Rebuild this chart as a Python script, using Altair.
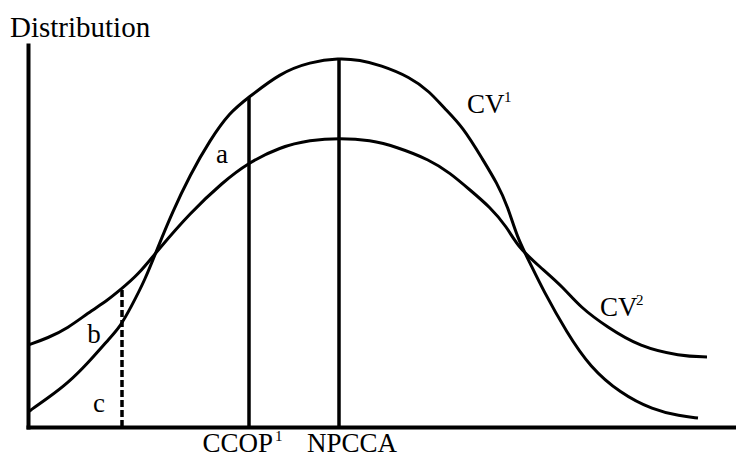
import altair as alt
import numpy as np
import pandas as pd

# ---- values (x: horizontal units, y: distribution height) ----
cv1_x = [0, 20, 40, 60, 80, 92, 103, 117, 130, 144, 162, 182, 202, 220, 252, 282, 311,
         332, 352, 382, 402, 415, 435, 455, 469, 480, 489, 502, 515, 539, 562, 592, 625,
         652, 670]
cv1_y = [15, 29, 44, 64, 87, 100, 120, 147, 180, 214, 252, 287, 315, 329, 354, 365, 369,
         367, 362, 350, 335, 320, 300, 267, 244, 220, 190, 164, 137, 94, 60, 34, 17,
         11, 9]

cv2_x = [0, 20, 40, 60, 80, 92, 110, 130, 162, 195, 220, 252, 282, 312, 342, 369, 402,
         422, 442, 462, 479, 490, 512, 535, 552, 579, 612, 652, 679]
cv2_y = [82, 89, 99, 114, 127, 137, 152, 177, 214, 245, 264, 280, 287, 289, 287, 280, 267,
         254, 237, 220, 200, 180, 160, 140, 120, 100, 80, 71, 70]

# marked positions on the horizontal axis
ccop_x = 221
npcca_x = 311
cut_x = 94

X_MAX = 708
Y_MAX = 382

curves = pd.DataFrame(
    {"x": cv1_x + cv2_x,
     "y": cv1_y + cv2_y,
     "series": ["CV1"] * len(cv1_x) + ["CV2"] * len(cv2_x)}
)

rules = pd.DataFrame({
    "x": [ccop_x, npcca_x],
    "y0": [0, 0],
    "y1": [float(np.interp(ccop_x, cv1_x, cv1_y)), float(np.interp(npcca_x, cv1_x, cv1_y))],
})
dashed = pd.DataFrame({
    "x": [cut_x], "y0": [0], "y1": [float(np.interp(cut_x, cv2_x, cv2_y))],
})

# labels
main_labels = pd.DataFrame({
    "x": [194, 66, 71, 439, 572, 279],
    "y": [264, 84, 15, 314, 111, -25],
    "t": ["a", "b", "c", "CV", "CV", "NPCCA"],
    "align": ["center", "center", "center", "left", "left", "left"],
})
ccop_label = pd.DataFrame({"x": [245], "y": [-25], "t": ["CCOP"]})
sup_labels = pd.DataFrame({
    "x": [476, 608, 247],
    "y": [325, 122, -14],
    "t": ["1", "2", "1"],
})
title_label = pd.DataFrame({"x": [-18], "y": [390], "t": ["Distribution"]})

FONT = "Liberation Serif"

xs = alt.Scale(domain=[0, X_MAX], nice=False, zero=False)
ys = alt.Scale(domain=[0, Y_MAX], nice=False, zero=False)
xax = alt.Axis(domain=True, domainWidth=4, domainColor="black", domainCap="square",
               ticks=False, labels=False, grid=False, title=None)
yax = alt.Axis(domain=True, domainWidth=4, domainColor="black", domainCap="square",
               ticks=False, labels=False, grid=False, title=None)


def X(f="x"):
    return alt.X(f"{f}:Q", scale=xs, axis=xax)


def Y(f="y"):
    return alt.Y(f"{f}:Q", scale=ys, axis=yax)


lines = alt.Chart(curves).mark_line(
    color="black", strokeWidth=3, interpolate="basis"
).encode(x=X(), y=Y(), detail="series:N")

solid_rules = alt.Chart(rules).mark_rule(color="black", strokeWidth=3.5).encode(
    x=X(), y=Y("y0"), y2="y1:Q"
)
dash_rule = alt.Chart(dashed).mark_rule(
    color="black", strokeWidth=3.5, strokeDash=[7, 3]
).encode(x=X(), y=Y("y0"), y2="y1:Q")

txt_center = alt.Chart(main_labels[main_labels["align"] == "center"]).mark_text(
    font=FONT, fontSize=27, color="black", align="center", baseline="alphabetic"
).encode(x=X(), y=Y(), text="t:N")
txt_left = alt.Chart(main_labels[main_labels["align"] == "left"]).mark_text(
    font=FONT, fontSize=27, color="black", align="left", baseline="alphabetic"
).encode(x=X(), y=Y(), text="t:N")
txt_ccop = alt.Chart(ccop_label).mark_text(
    font=FONT, fontSize=27, color="black", align="right", baseline="alphabetic"
).encode(x=X(), y=Y(), text="t:N")
txt_sup = alt.Chart(sup_labels).mark_text(
    font=FONT, fontSize=15, color="black", align="left", baseline="alphabetic"
).encode(x=X(), y=Y(), text="t:N")
txt_title = alt.Chart(title_label).mark_text(
    font=FONT, fontSize=29, color="black", align="left", baseline="alphabetic"
).encode(x=X(), y=Y(), text="t:N")

chart = alt.layer(
    lines, solid_rules, dash_rule, txt_center, txt_left, txt_ccop, txt_sup, txt_title
).properties(
    width=X_MAX, height=Y_MAX,
    autosize=alt.AutoSizeParams(type="none"),
    padding={"left": 20, "top": 37, "right": 0, "bottom": 33},
    background="white",
).configure_view(stroke=None)

chart.save("out.html", embed_options={"renderer": "svg", "actions": False})
